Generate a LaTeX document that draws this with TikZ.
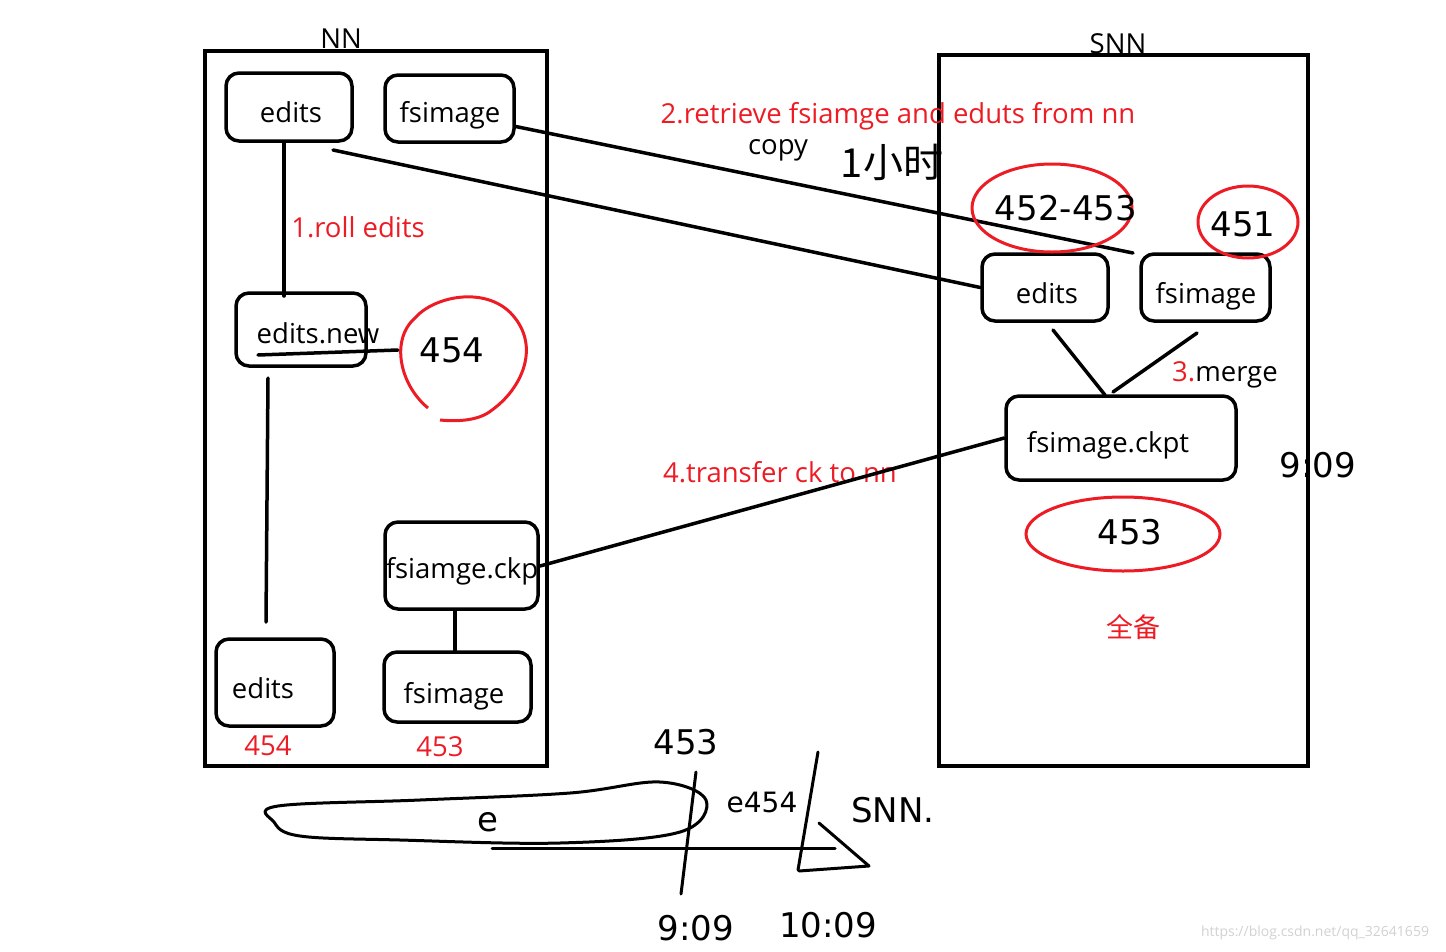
\documentclass[tikz,border=0pt]{standalone}
\usepackage{fontspec}
\setmainfont{Open Sans}
\newfontfamily\cjk{Noto Sans CJK SC}
\newfontfamily\hand{DejaVu Sans}
\definecolor{pred}{RGB}{237,28,36}
\newcommand{\tx}[3]{\raisebox{-#2pt}[0pt][0pt]{\makebox[0pt]{\hspace*{#1pt}#3}}}
\begin{document}
\begin{tikzpicture}[x=1pt,y=-1pt,
  frame/.style={draw=black,line width=4},
  box/.style={draw=black,line width=3.5,rounded corners=13,inner sep=0,font=\fontsize{27.5}{30}\selectfont},
  lbl/.style={font=\fontsize{27.5}{30}\selectfont,inner sep=0},
  rlbl/.style={lbl,text=pred},
  wire/.style={draw=black,line width=3.5,line cap=round},
  ring/.style={draw=pred,line width=3},
  hw/.style={font=\hand\fontsize{34}{36}\selectfont,inner sep=0},
  stroke/.style={draw=black,line width=3,line cap=round,line join=round}]
\useasboundingbox (0,0) rectangle (1446,951);
% frames
\node[frame,minimum width=342,minimum height=715,inner sep=0] (nn) at (376,408.5) {};
\node[frame,minimum width=369,minimum height=711,inner sep=0] (snn) at (1123.5,410.5) {};
\node[lbl] (nnlbl) at (341,39) {NN};
\node[lbl] (snnlbl) at (1118,44) {SNN};
% NN boxes
\node[box,minimum width=126,minimum height=68] (nedits) at (289,107) {\tx{4}{15.5}{edits}};
\node[box,minimum width=129,minimum height=67] (nfs) at (449.5,108.5) {\tx{1}{14}{fsimage}};
\node[box,minimum width=130,minimum height=73] (nnew) at (301,329.5) {\tx{34}{13.5}{edits.new}};
\node[box,minimum width=153,minimum height=87] (nckpt) at (461.5,565.5) {\tx{1}{12.5}{fsiamge.ckp}};
\node[box,minimum width=118,minimum height=87] (nedits2) at (275,682.5) {\tx{-24}{15.5}{edits}};
\node[box,minimum width=147,minimum height=70] (nfs2) at (457.5,687) {\tx{-7}{16}{fsimage}};
% SNN boxes
\node[box,minimum width=126,minimum height=67] (sedits) at (1045,287.5) {\tx{4}{15.5}{edits}};
\node[box,minimum width=129,minimum height=67] (sfs) at (1205.5,287.5) {\tx{1}{15.5}{fsimage}};
\node[box,minimum width=230,minimum height=84] (sckpt) at (1121,438) {\tx{-26}{14}{fsimage.ckpt}};
% labels
\node[rlbl] (l1) at (358,227) {1.roll edits};
\node[rlbl] (l2) at (898,116) {2.retrieve fsiamge and eduts from nn};
\node[lbl] (lcopy) at (778,150) {copy};
\node[lbl,anchor=west] (l3) at (1172,375) {\textcolor{pred}{3.}merge};
\node[rlbl] (l4) at (780,472) {4.transfer ck to nn};
\node[font=\cjk\fontsize{27}{30}\selectfont,text=pred,inner sep=0] (lqb) at (1133,627) {全备};
\node[rlbl] (n454) at (268,746) {454};
\node[rlbl] (n453) at (440,747) {453};
% connectors
\coordinate (c1) at (284,296);
\draw[wire] (nedits.south -| c1) -- (c1);
\draw[wire] (258,355) -- (398,350);
\coordinate (v1a) at (268,378);
\coordinate (v1b) at (266,622);
\draw[wire] (v1a) -- (v1b);
\draw[wire] (nckpt.south -| 455,0) -- (nfs2.north -| 455,0);
\coordinate (fsend) at (1133,253);
\draw[wire] (nfs.east) ++(0,18) -- (fsend);
\coordinate (edstart) at (333,150);
\draw[wire] (edstart) -- (sedits.west);
\draw[wire] (1053,330) -- (1105,395);
\draw[wire] (1197,333) -- (1113,392);
\draw[wire] (sckpt.west) -- (540,566);
% red rings
\draw[ring] (1052,208) ellipse [x radius=80,y radius=44];
\draw[ring] (1248,222) ellipse [x radius=50,y radius=36];
\draw[ring] (428,408) .. controls (400,385) and (390,340) .. (415,318)
  .. controls (435,295) and (490,285) .. (515,318)
  .. controls (540,350) and (520,390) .. (492,410)
  .. controls (480,420) and (460,422) .. (440,420);
\draw[ring] (1123,534) ellipse [x radius=97,y radius=37];
% handwriting
\node[hw] (h1) at (1066,208) {452-453};
\node[hw] (h2) at (1243,224) {451};
\node[hw] (h3) at (452,350) {454};
\node[font=\cjk\fontsize{40}{44}\selectfont,inner sep=0] (h4) at (892,162) {1小时};
\node[hw] (h5) at (1130,532) {453};
\node[hw] (h6) at (1318,465) {9:09};
\node[hw] (h7) at (686,742) {453};
\node[hw,font=\hand\fontsize{28}{30}\selectfont] (h8) at (762,802) {e454};
\node[hw] (h9) at (893,810) {SNN.};
\node[hw] (h10) at (696,928) {9:09};
\node[hw] (h11) at (828,925) {10:09};
\node[hw] (h12) at (488,822) {e};
% bottom scribbles
\draw[stroke] plot[smooth cycle,tension=0.6] coordinates {(278,806) (420,800) (570,793) (660,782) (706,800) (680,832) (560,843) (400,840) (300,836) (274,822)};
\draw[stroke] (492,848) -- (835,848);
\draw[stroke] (819,823) -- (869,866) -- (799,871);
\draw[stroke] (818,752) -- (798,870);
\draw[stroke] (696,772) -- (681,894);
% watermark
\node[font=\fontsize{14}{16}\selectfont,text=black!18,inner sep=0] (wm) at (1315,933) {https://blog.csdn.net/qq\_32641659};
\end{tikzpicture}
\end{document}
